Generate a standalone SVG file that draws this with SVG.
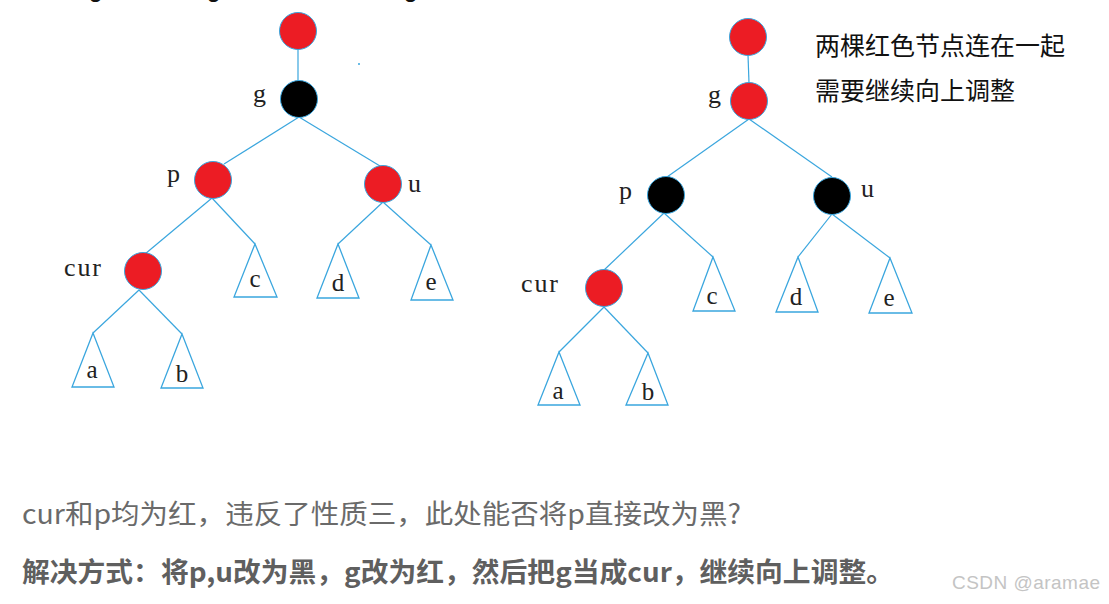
<svg xmlns="http://www.w3.org/2000/svg" width="1109" height="604" viewBox="0 0 1109 604">
<style>
.edge{stroke:#3aa6de;stroke-width:1.2;fill:none}
.tri{stroke:#3aa6de;stroke-width:1.3;fill:#fff}
.red{fill:#ec1c24;stroke:#3aa6de;stroke-width:1}
.blk{fill:#000;stroke:#3aa6de;stroke-width:1}
.lbl{font-family:"Liberation Serif","DejaVu Serif",serif;font-size:26px;fill:#222}
.sub{font-family:"Liberation Serif","DejaVu Serif",serif;font-size:25px;fill:#222;text-anchor:middle}
.note{font-family:"Noto Sans CJK SC","Noto Sans",sans-serif;font-size:25px;fill:#111}
.t1{font-family:"Noto Sans CJK SC","Noto Sans",sans-serif;font-size:27px;fill:#6a6a6a}
.t2{font-family:"Noto Sans CJK SC","Noto Sans",sans-serif;font-size:27px;font-weight:bold;fill:#5f5f5f}
.wm{font-family:"Liberation Sans",Arial,sans-serif;font-size:19px;fill:#c4c4c4}
</style>
<rect width="1109" height="604" fill="#fff"/>
<g id="cut-text" font-family="Liberation Sans,sans-serif" font-weight="bold" font-size="22" fill="#111">
<text x="89" y="-3">g</text><text x="207" y="-3">g</text><text x="404" y="-3">g</text>
</g>
<circle cx="359" cy="64" r="1" fill="#3aa6de"/>
<g id="connectors">
<line class="edge" x1="298" y1="49" x2="298" y2="81"/>
<line class="edge" x1="299" y1="117" x2="224" y2="164"/>
<line class="edge" x1="299" y1="117" x2="380" y2="166"/>
<line class="edge" x1="212" y1="198" x2="145" y2="254"/>
<line class="edge" x1="212" y1="198" x2="255" y2="244"/>
<line class="edge" x1="383" y1="202" x2="338" y2="244"/>
<line class="edge" x1="383" y1="202" x2="431" y2="245"/>
<line class="edge" x1="139" y1="290" x2="93" y2="333"/>
<line class="edge" x1="139" y1="290" x2="182" y2="334"/>
<line class="edge" x1="748" y1="55" x2="749" y2="83"/>
<line class="edge" x1="749" y1="119" x2="667" y2="177"/>
<line class="edge" x1="749" y1="119" x2="832" y2="177"/>
<line class="edge" x1="664" y1="213" x2="603" y2="271"/>
<line class="edge" x1="664" y1="213" x2="713" y2="257"/>
<line class="edge" x1="832" y1="214" x2="798" y2="257"/>
<line class="edge" x1="832" y1="214" x2="890" y2="258"/>
<line class="edge" x1="604" y1="307" x2="559" y2="352"/>
<line class="edge" x1="604" y1="307" x2="648" y2="353"/>
</g>
<g id="L-root"><circle class="red" cx="298" cy="31" r="18.5"/></g>
<g id="L-g"><circle class="blk" cx="299" cy="99" r="18.5"/><text class="lbl" x="253" y="102">g</text></g>
<g id="L-p"><circle class="red" cx="213" cy="180" r="18.5"/><text class="lbl" x="167" y="182">p</text></g>
<g id="L-u"><circle class="red" cx="383" cy="184" r="18.5"/><text class="lbl" x="408" y="192">u</text></g>
<g id="L-cur"><circle class="red" cx="143" cy="271" r="18.5"/><text class="lbl" x="64" y="276" textLength="37">cur</text></g>
<g id="L-c"><polygon class="tri" points="255,244 234,297 277,297"/><text class="sub" x="255" y="287">c</text></g>
<g id="L-d"><polygon class="tri" points="338,244 317,298 359,298"/><text class="sub" x="338" y="291">d</text></g>
<g id="L-e"><polygon class="tri" points="431,245 411,300 453,300"/><text class="sub" x="431" y="290">e</text></g>
<g id="L-a"><polygon class="tri" points="93,333 72,387 114,387"/><text class="sub" x="92" y="378">a</text></g>
<g id="L-b"><polygon class="tri" points="182,334 161,388 203,388"/><text class="sub" x="182" y="382">b</text></g>

<g id="R-root"><circle class="red" cx="748" cy="37" r="18.5"/></g>
<g id="R-g"><circle class="red" cx="749" cy="101" r="18.5"/><text class="lbl" x="708" y="103">g</text></g>
<g id="R-p"><circle class="blk" cx="666" cy="195" r="18.5"/><text class="lbl" x="619" y="199">p</text></g>
<g id="R-u"><circle class="blk" cx="832" cy="196" r="18.5"/><text class="lbl" x="861" y="197">u</text></g>
<g id="R-cur"><circle class="red" cx="604" cy="288" r="18.5"/><text class="lbl" x="521" y="292" textLength="37">cur</text></g>
<g id="R-c"><polygon class="tri" points="713,257 693,311 735,311"/><text class="sub" x="712" y="304">c</text></g>
<g id="R-d"><polygon class="tri" points="798,257 776,312 818,312"/><text class="sub" x="796" y="305">d</text></g>
<g id="R-e"><polygon class="tri" points="890,258 869,313 912,313"/><text class="sub" x="889" y="306">e</text></g>
<g id="R-a"><polygon class="tri" points="559,352 538,405 580,405"/><text class="sub" x="558" y="399">a</text></g>
<g id="R-b"><polygon class="tri" points="648,353 626,405 668,405"/><text class="sub" x="648" y="400">b</text></g>

<g id="note">
<text class="note" x="815" y="55">两棵红色节点连在一起</text>
<text class="note" x="815" y="100">需要继续向上调整</text>
</g>
<g id="caption">
<text class="t1" x="22" y="524" textLength="719" lengthAdjust="spacingAndGlyphs">cur和p均为红，违反了性质三，此处能否将p直接改为黑?</text>
<text class="t2" x="22" y="582" textLength="872" lengthAdjust="spacingAndGlyphs">解决方式：将p,u改为黑，g改为红，然后把g当成cur，继续向上调整。</text>
<text class="wm" x="952" y="589" textLength="148">CSDN @aramae</text>
</g>
</svg>
